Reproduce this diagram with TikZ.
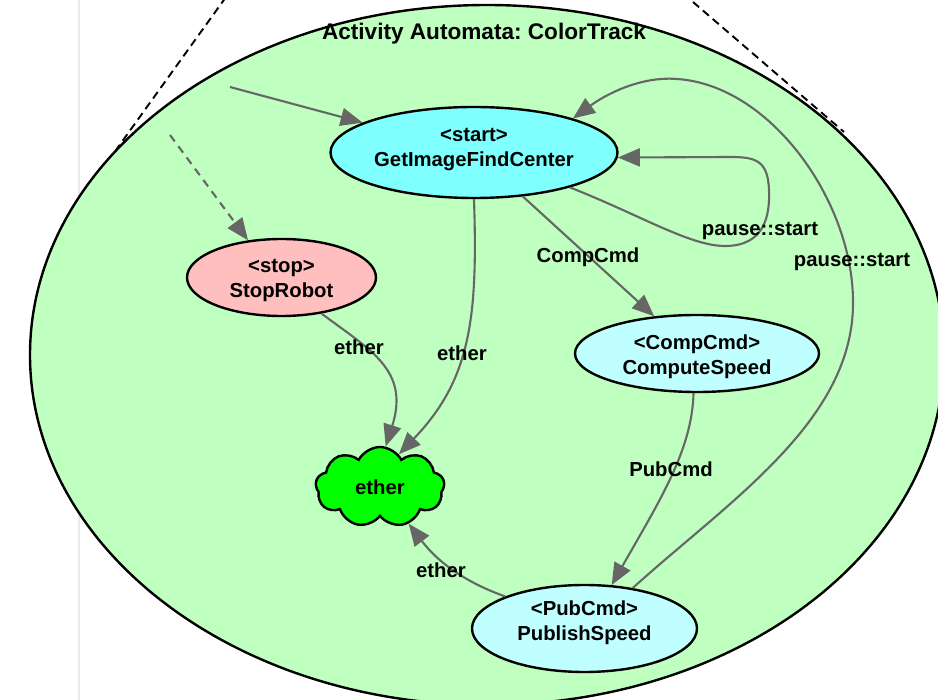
\documentclass[tikz,border=0pt]{standalone}
\usepackage{fontspec}
\setmainfont{Liberation Sans}
\frenchspacing
\usetikzlibrary{arrows.meta,shapes.geometric,shapes.symbols}
\definecolor{regionfill}{RGB}{191,255,191}
\definecolor{startfill}{RGB}{128,255,255}
\definecolor{stopfill}{RGB}{255,191,191}
\definecolor{actfill}{RGB}{191,255,255}
\definecolor{etherfill}{RGB}{0,255,0}
\definecolor{edgegray}{RGB}{102,102,102}
\definecolor{railgray}{RGB}{234,234,234}

\begin{document}
\begin{tikzpicture}[x=1pt,y=-1pt,
  txt/.style={font=\bfseries\fontsize{20.3}{25}\selectfont},
  state/.style={ellipse, draw=black, line width=2.4pt, inner sep=0pt},
  statetext/.style={txt, align=center, inner sep=0pt},
  edge/.style={draw=edgegray, line width=2.1pt, -{Triangle[length=22pt,width=18pt]}},
  lbl/.style={txt, anchor=base, inner sep=0pt},
  tangent/.style={draw=black, line width=1.9pt, dash pattern=on 8pt off 5pt},
]
\useasboundingbox (0,0) rectangle (938,700);
\clip (0,0) rectangle (938,700);

% page rule behind the automaton
\draw[railgray, line width=2.2pt] (79,0) -- (79,700);

% automaton region
\draw[fill=regionfill, line width=2.4pt] (487,355) ellipse [x radius=457, y radius=350];
\node[lbl, font=\bfseries\fontsize{22.6}{26}\selectfont] (title) at (484,40) {Activity Automata: ColorTrack};

% tangent guides
\coordinate (tla) at (226,-3);
\coordinate (tlb) at (116,150);
\coordinate (tra) at (693,2);
\coordinate (trb) at (844,132);
\draw[tangent] (tla) -- (tlb);
\draw[tangent] (tra) -- (trb);

% states
\node[state, fill=startfill, minimum width=287pt, minimum height=91pt] (get) at (474,152.5) {};
\node[state, fill=stopfill, minimum width=189pt, minimum height=77pt] (stop) at (281.5,277.5) {};
\node[state, fill=actfill, minimum width=244pt, minimum height=77pt] (comp) at (697,353.5) {};
\node[state, fill=actfill, minimum width=225pt, minimum height=87pt] (pub) at (584.5,628.5) {};
\node[statetext] (gettext) at (474,150) {<start>\\GetImageFindCenter};
\node[statetext] (stoptext) at (281.5,280) {<stop>\\StopRobot};
\node[statetext] (comptext) at (697,356.5) {<CompCmd>\\ComputeSpeed};
\node[statetext] (pubtext) at (584.5,623) {<PubCmd>\\PublishSpeed};
\node[cloud, cloud puffs=9, cloud puff arc=125, aspect=1.6, draw=black, line width=2.4pt, fill=etherfill,
      minimum width=129pt, minimum height=80pt, inner sep=0pt, txt] (ether) at (380,487) {ether};

% entry arrows
\coordinate (init) at (230,87);
\coordinate (stopinit) at (170,135);
\draw[edge] (init) -- (get.165);
\draw[edge, dash pattern=on 8pt off 6pt] (stopinit) -- (stop.132);

% transitions
\draw[edge] (get.south) .. controls (478,320) and (470,380) .. (ether.60);
\draw[edge] (stop.-42) .. controls (370,350) and (410,370) .. (ether.82);
\draw[edge] (get.-42) -- (comp.139);
\draw[edge] (get.-20) .. controls (640,215) and (690,246) .. (725,246)
  .. controls (765,246) and (770,215) .. (769,190)
  .. controls (768,160) and (755,157) .. (730,157) -- (get.-2);
\draw[edge] (pub.40) .. controls (730,500) and (855,420) .. (853,300)
  .. controls (852,200) and (770,85) .. (677,79)
  .. controls (640,76) and (605,95) .. (get.19);
\draw[edge] (comp.-95) .. controls (692,450) and (660,500) .. (pub.58);
\draw[edge] (pub.158) .. controls (470,584) and (440,565) .. (ether.-52);

% transition labels
\node[lbl] (lcomp) at (588,263) {CompCmd};
\node[lbl] (lloop) at (760,236) {pause::start};
\node[lbl] (lback) at (852,267) {pause::start};
\node[lbl] (lstop) at (359,355) {ether};
\node[lbl] (lget) at (462,361) {ether};
\node[lbl] (lpubcmd) at (671,477) {PubCmd};
\node[lbl] (lpub) at (441,578) {ether};
\end{tikzpicture}
\end{document}
